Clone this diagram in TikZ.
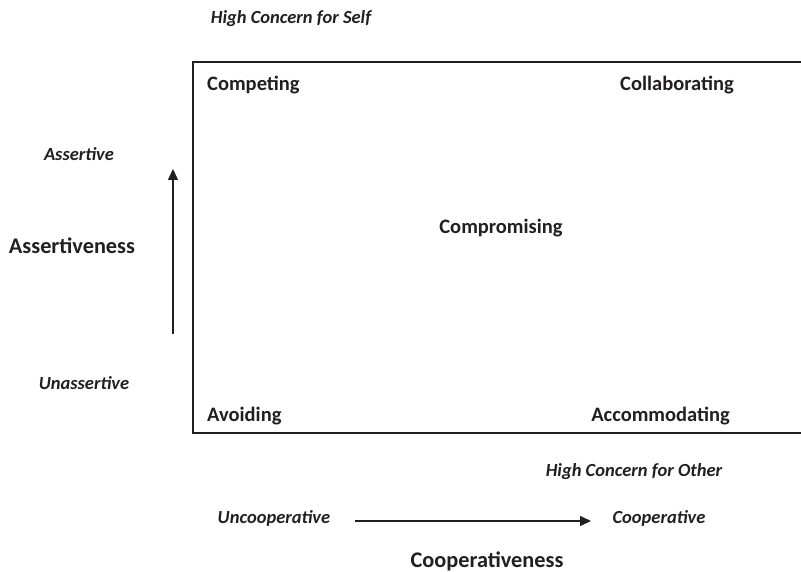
\documentclass[tikz,border=0pt]{standalone}
\usepackage{fontspec}
\setmainfont{Carlito}
\usetikzlibrary{arrows.meta}
\definecolor{ink}{HTML}{231F20}
\tikzset{
  lab/.style={font=\fontsize{20.5}{24}\selectfont\bfseries, text=ink, inner sep=0pt},
  axis/.style={font=\fontsize{22.3}{26}\selectfont\bfseries, text=ink, inner sep=0pt},
  ital/.style={font=\fontsize{18.5}{22}\selectfont\bfseries\itshape, text=ink, inner sep=0pt},
  frame/.style={draw=ink, line width=1.4pt},
  arr/.style={draw=ink, line width=1.4pt, -{Triangle[length=11pt,width=10pt]}}
}
\begin{document}
\begin{tikzpicture}[x=1pt,y=-1pt]
\useasboundingbox (0,0) rectangle (801,572);
\fill[white] (0,0) rectangle (801,572);
% box (right side beyond the picture)
\draw[frame] (801,62) -- (193,62) -- (193,433) -- (801,433);
\node[ital] (self) at (291,19) {High Concern for Self};
\node[lab, anchor=west] (comp) at (207,85) {Competing};
\node[lab, anchor=east] (coll) at (734,85) {Collaborating};
\node[lab] (compr) at (501,228) {Compromising};
\node[lab, anchor=west] (avoid) at (207,416) {Avoiding};
\node[lab, anchor=east] (accom) at (730,416) {Accommodating};
\node[ital] (asst) at (79,154) {Assertive};
\node[axis] (asstv) at (72,246) {Assertiveness};
\node[ital] (unas) at (84,383) {Unassertive};
\coordinate (vbot) at (173,334);
\coordinate (vtop) at (173,169);
\draw[arr] (vbot) -- (vtop);
\node[ital] (other) at (634,472) {High Concern for Other};
\node[ital] (uncoop) at (274,518) {Uncooperative};
\node[ital] (coop) at (659,518) {Cooperative};
\coordinate (hl) at (355,521);
\coordinate (hr) at (591,521);
\draw[arr] (hl) -- (hr);
\node[axis] (coopv) at (487,561) {Cooperativeness};
\end{tikzpicture}
\end{document}
